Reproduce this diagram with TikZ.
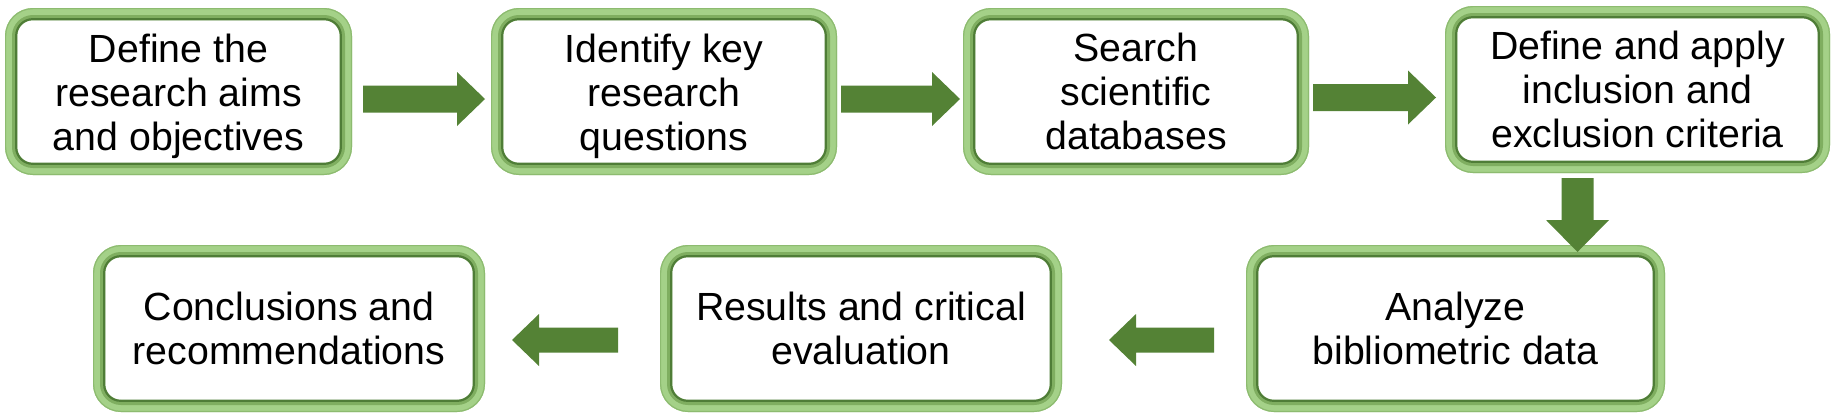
\documentclass[tikz,border=0pt]{standalone}
\usepackage{fontspec}
\setmainfont{Liberation Sans}
\usetikzlibrary{calc}
\definecolor{arrowgreen}{HTML}{548235}
\definecolor{rimlight}{HTML}{A4D188}
\definecolor{rimedge}{HTML}{8DBB70}
\definecolor{rimmid}{HTML}{7FAE60}
\definecolor{rimdark}{HTML}{4F7D37}
\tikzset{
  stepbox/.style={rectangle, inner sep=0pt, outer sep=0pt, align=center,
    font=\fontsize{39.3}{44}\selectfont, text=black},
  arrowfill/.style={fill=arrowgreen, draw=none},
}
\newcommand\lowered[2]{\raisebox{-#1}[\height][\depth]{\begin{tabular}{@{}c@{}}#2\end{tabular}}}
\newcommand\gborder[1]{%
  \draw[rimlight, line width=12pt, rounded corners=22pt]
    ($(#1.north west)+(6,6)$) rectangle ($(#1.south east)+(-6,-6)$);
  \draw[rimedge, line width=1.2pt, rounded corners=27.4pt]
    ($(#1.north west)+(0.6,0.6)$) rectangle ($(#1.south east)+(-0.6,-0.6)$);
  \draw[rimmid, line width=4pt, rounded corners=19pt]
    ($(#1.north west)+(9,9)$) rectangle ($(#1.south east)+(-9,-9)$);
  \draw[rimdark, line width=2.2pt, rounded corners=16.5pt]
    ($(#1.north west)+(11.2,11.2)$) rectangle ($(#1.south east)+(-11.2,-11.2)$);
}
% horizontal block arrow: #1 start, #2 tip, #3 shaft half, #4 head half, #5 head length (signed)
\newcommand\harrow[5]{%
  \fill[arrowfill] let \p1=#1, \p2=#2 in
    ({\x1},{\y1+#3}) -- ({\x2-(#5)},{\y1+#3}) -- ({\x2-(#5)},{\y1+#4}) -- ({\x2},{\y1})
    -- ({\x2-(#5)},{\y1-#4}) -- ({\x2-(#5)},{\y1-#3}) -- ({\x1},{\y1-#3}) -- cycle;
}
% vertical (downward) block arrow
\newcommand\varrow[5]{%
  \fill[arrowfill] let \p1=#1, \p2=#2 in
    ({\x1+#3},{\y1}) -- ({\x1+#3},{\y2+#5}) -- ({\x1+#4},{\y2+#5}) -- ({\x1},{\y2})
    -- ({\x1-#4},{\y2+#5}) -- ({\x1-#3},{\y2+#5}) -- ({\x1-#3},{\y1}) -- cycle;
}
\begin{document}
\begin{tikzpicture}[x=1pt,y=-1pt]
\useasboundingbox (0,0) rectangle (1838,418);
\fill[white] (0,0) rectangle (1838,418);

\node[stepbox, minimum width=347pt, minimum height=167pt] (b1) at (178.5,91.5)
  {\lowered{6pt}{Define the\\research aims\\and objectives}};
\node[stepbox, minimum width=346pt, minimum height=167pt] (b2) at (664,91.5)
  {\lowered{6pt}{Identify key\\research\\questions}};
\node[stepbox, minimum width=346pt, minimum height=167pt] (b3) at (1136,91.5)
  {\lowered{5pt}{Search\\scientific\\databases}};
\node[stepbox, minimum width=385pt, minimum height=167pt] (b4) at (1637.5,89.5)
  {\lowered{5pt}{Define and apply\\inclusion and\\exclusion criteria}};
\node[stepbox, minimum width=419pt, minimum height=167pt] (b5) at (1455.5,328.5)
  {Analyze\\bibliometric data};
\node[stepbox, minimum width=402pt, minimum height=167pt] (b6) at (861,328.5)
  {Results and critical\\evaluation};
\node[stepbox, minimum width=392pt, minimum height=167pt] (b7) at (289,328.5)
  {Conclusions and\\recommendations};

\gborder{b1}\gborder{b2}\gborder{b3}\gborder{b4}
\gborder{b5}\gborder{b6}\gborder{b7}

\coordinate (a1s) at ($(b1.east)+(11,7.5)$);
\coordinate (a1t) at ($(b2.west)+(-6,7.5)$);
\coordinate (a2s) at ($(b2.east)+(4,7.5)$);
\coordinate (a2t) at ($(b3.west)+(-3,7.5)$);
\coordinate (a3s) at ($(b3.east)+(4,6)$);
\coordinate (a3t) at ($(b4.west)+(-9,6)$);
\coordinate (a4s) at ($(b4.south)+(-60,5)$);
\coordinate (a4t) at ($(b5.north)+(0,7)$);
\coordinate (a5s) at ($(b5.west)+(-32,11.5)$);
\coordinate (a5t) at ($(b6.east)+(47,11.5)$);
\coordinate (a6s) at ($(b6.west)+(-42,11.5)$);
\coordinate (a6t) at ($(b7.east)+(27,11.5)$);

\harrow{(a1s)}{(a1t)}{13.5pt}{27pt}{28pt}
\harrow{(a2s)}{(a2t)}{13.5pt}{27pt}{28pt}
\harrow{(a3s)}{(a3t)}{13.5pt}{27pt}{28pt}
\varrow{(a4s)}{(a4t)}{16pt}{31.5pt}{32pt}
\harrow{(a5s)}{(a5t)}{12.5pt}{26pt}{-27pt}
\harrow{(a6s)}{(a6t)}{12.5pt}{26pt}{-27pt}
\end{tikzpicture}
\end{document}
